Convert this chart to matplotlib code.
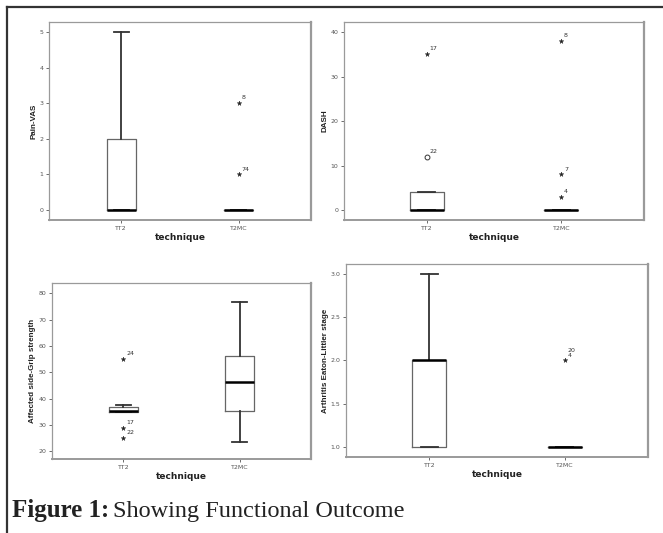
import matplotlib
matplotlib.use("Agg")
import matplotlib.pyplot as plt
from matplotlib.lines import Line2D

# Data
groups = ["TT2", "T2MC"]

pain_q1 = [0, 0]
pain_med = [0, 0]
pain_q3 = [2, 0]
pain_lo = [0, 0]
pain_hi = [5, 0]
pain_out = [[], [(3, "8", "*"), (1, "74", "*")]]

dash_q1 = [0, 0]
dash_med = [0, 0]
dash_q3 = [4, 0]
dash_lo = [0, 0]
dash_hi = [4, 0]
dash_out = [[(35, "17", "*"), (12, "22", "o")],
            [(38, "8", "*"), (8, "7", "*"), (3, "4", "*")]]

grip_q1 = [35, 35.2]
grip_med = [35.4, 46.2]
grip_q3 = [36.7, 56.3]
grip_lo = [35, 23.6]
grip_hi = [37.5, 76.6]
grip_out = [[(55, "24", "*"), (29, "17", "*"), (25, "22", "*")], []]

stage_q1 = [1, 1]
stage_med = [2, 1]
stage_q3 = [2, 1]
stage_lo = [1, 1]
stage_hi = [3, 1]
stage_out = [[], [(2, "20\n4", "*")]]

fig = plt.figure(figsize=(6.63, 5.33), dpi=100)

spine_col = "#9a9a9a"
tick_col = "#555555"
narrow = ["Liberation Sans Narrow", "Liberation Sans", "DejaVu Sans"]


def panel(rect, q1, med, q3, lo, hi, outs, ylabel, ylim, yticks, yfmt):
    ax = fig.add_axes(rect)
    stats = []
    for i in range(len(groups)):
        stats.append({"q1": q1[i], "med": med[i], "q3": q3[i],
                      "whislo": lo[i], "whishi": hi[i], "fliers": []})
    ax.bxp(stats, positions=[1, 2], widths=0.25, showfliers=False,
           boxprops=dict(color="#666666", lw=0.9),
           whiskerprops=dict(color="#333333", lw=1.3),
           capprops=dict(color="#333333", lw=1.3),
           medianprops=dict(color="black", lw=1.8))
    for i, pts in enumerate(outs):
        for y, lab, m in pts:
            if m == "o":
                ax.plot(i + 1, y, "o", ms=3.5, mfc="white", mec="#333333", mew=0.7)
            else:
                ax.plot(i + 1, y, "*", ms=3.5, color="#222222", mew=0.3)
            ax.annotate(lab, (i + 1, y), xytext=(2, 2), textcoords="offset points",
                        fontsize=4.5, color="#333333", va="bottom", ha="left",
                        linespacing=0.9)
    ax.set_xlim(0.385, 2.615)
    ax.set_ylim(*ylim)
    ax.set_yticks(yticks)
    ax.set_yticklabels([yfmt.format(v) for v in yticks])
    ax.set_xticks([1, 2])
    ax.set_xticklabels(groups)
    ax.tick_params(labelsize=4.5, length=2.5, width=0.6, colors=tick_col, pad=1.5)
    for s in ax.spines.values():
        s.set_color(spine_col)
        s.set_linewidth(0.9)
    ax.spines["right"].set_linewidth(1.6)
    ax.spines["bottom"].set_linewidth(1.4)
    ax.set_ylabel(ylabel, fontsize=5.8, fontweight="bold", color="#222222",
                  labelpad=1.5, family=narrow)
    ax.set_xlabel("technique", fontsize=6.5, fontweight="bold", color="#222222", labelpad=2)
    return ax


panel([0.0739, 0.5872, 0.3952, 0.3715], pain_q1, pain_med, pain_q3, pain_lo, pain_hi,
      pain_out, "Pain-VAS", (-0.28, 5.28), [0, 1, 2, 3, 4, 5], "{:d}")
panel([0.5189, 0.5872, 0.4525, 0.3715], dash_q1, dash_med, dash_q3, dash_lo, dash_hi,
      dash_out, "DASH", (-2.25, 42.25), [0, 10, 20, 30, 40], "{:d}")
panel([0.0784, 0.1388, 0.3906, 0.3302], grip_q1, grip_med, grip_q3, grip_lo, grip_hi,
      grip_out, "Affected side-Grip strength", (17.1, 83.9),
      [20, 30, 40, 50, 60, 70, 80], "{:d}")
panel([0.5219, 0.1426, 0.4555, 0.3621], stage_q1, stage_med, stage_q3, stage_lo, stage_hi,
      stage_out, "Arthritis Eaton-Littler stage", (0.885, 3.115),
      [1.0, 1.5, 2.0, 2.5, 3.0], "{:.1f}")

# frame lines of the figure box (top and left)
fig.add_artist(Line2D([7 / 663, 1.0], [1 - 7 / 533, 1 - 7 / 533],
                      transform=fig.transFigure, color="#333333", lw=1.6))
fig.add_artist(Line2D([7 / 663, 7 / 663], [0, 1 - 7 / 533],
                      transform=fig.transFigure, color="#333333", lw=1.6))

# caption
fig.text(12 / 663, 0.030, "Figure 1:", fontsize=18, fontweight="bold",
         family="Liberation Serif", color="#222222", va="baseline")
fig.text(113 / 663, 0.030, "Showing Functional Outcome", fontsize=17.5,
         family="Liberation Serif", color="#222222", va="baseline")

fig.savefig("out.png", dpi=100)
